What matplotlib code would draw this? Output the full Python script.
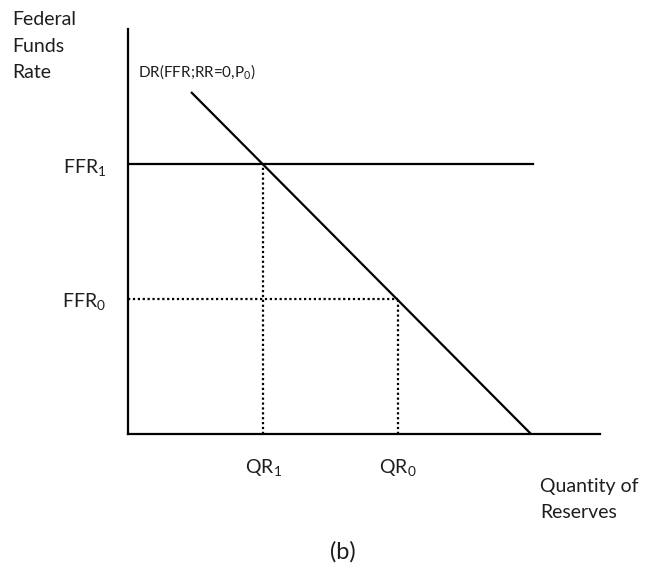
import matplotlib
matplotlib.use('Agg')
import matplotlib.pyplot as plt

plt.rcParams['font.family'] = ['Lato', 'DejaVu Sans']
plt.rcParams['mathtext.fontset'] = 'custom'
plt.rcParams['mathtext.rm'] = 'Lato'
plt.rcParams['mathtext.it'] = 'Lato:italic'
plt.rcParams['text.color'] = '#1e1e1e'

# data (arbitrary units, origin at axes corner)
demand_x = [63, 403]
demand_y = [342, 0]
ffr_levels = [135, 270]          # FFR0, FFR1
qr_levels = [270, 135]           # QR0, QR1
ffr1_line_end = 405
ffr_labels = [r'FFR$_\mathrm{0}$', r'FFR$_\mathrm{1}$']
qr_labels = [r'QR$_\mathrm{0}$', r'QR$_\mathrm{1}$']
demand_label = r'DR(FFR;RR=0,P$_\mathrm{0}$)'

W, H = 649, 572
fig = plt.figure(figsize=(W / 100, H / 100), dpi=100)
x0, y0, x1, y1 = 128, 434, 600, 29
ax = fig.add_axes([x0 / W, 1 - y0 / H, (x1 - x0) / W, (y0 - y1) / H])
ax.set_xlim(0, x1 - x0)
ax.set_ylim(0, y0 - y1)
for s in ['top', 'right']:
    ax.spines[s].set_visible(False)
for s in ['left', 'bottom']:
    ax.spines[s].set_linewidth(1.6)
ax.set_xticks([])
ax.set_yticks([])

lw = 1.6
dots = (0, (1, 1.2))
# demand curve
ax.plot(demand_x, demand_y, color='black', lw=lw, solid_capstyle='butt')
# FFR1 solid horizontal
ax.plot([0, ffr1_line_end], [ffr_levels[1], ffr_levels[1]], color='black', lw=lw)
# FFR0 dotted horizontal
ax.plot([0, qr_levels[0]], [ffr_levels[0], ffr_levels[0]], color='black', lw=lw,
        linestyle=dots)
# dotted verticals
ax.plot([qr_levels[1], qr_levels[1]], [0, ffr_levels[1]], color='black', lw=lw,
        linestyle=dots)
ax.plot([qr_levels[0], qr_levels[0]], [0, ffr_levels[0]], color='black', lw=lw,
        linestyle=dots)

# labels
fs = 14
for lev, lab in zip(ffr_levels, ffr_labels):
    ax.text(-22, lev - 3, lab, ha='right', va='center', fontsize=fs, clip_on=False)
for lev, lab in zip(qr_levels, qr_labels):
    ax.text(lev, -34, lab, ha='center', va='center', fontsize=fs, clip_on=False)
ax.text(10, 362, demand_label, ha='left', va='center', fontsize=11, clip_on=False)

fig.text(12 / W, 1 - 11 / H, 'Federal\nFunds\nRate', ha='left', va='top',
         fontsize=fs, linespacing=1.68)
fig.text(540 / W, 1 - 478 / H, 'Quantity of\nReserves', ha='left', va='top',
         fontsize=fs, linespacing=1.65)
fig.text(343 / W, 1 - 552 / H, '(b)', ha='center', va='center', fontsize=17)

fig.savefig('out.png', dpi=100)
